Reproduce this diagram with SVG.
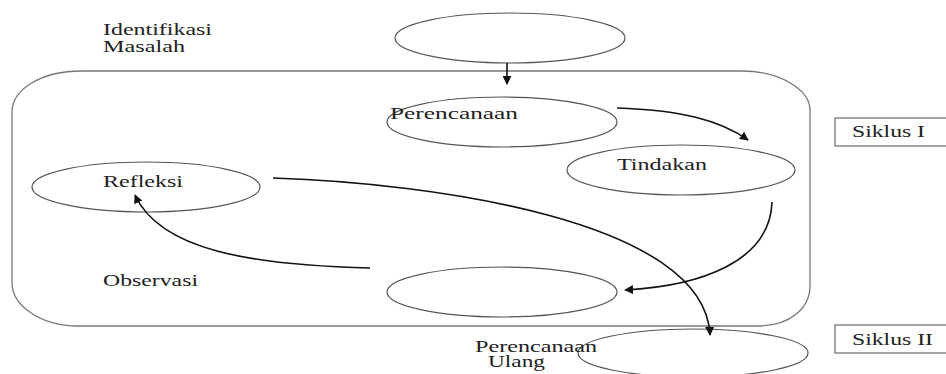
<svg xmlns="http://www.w3.org/2000/svg" width="946" height="374" viewBox="0 0 946 374">
<style>
.n{fill:none;stroke:#555;stroke-width:1.2}
.b{fill:none;stroke:#777;stroke-width:1.3}
.t{font-family:"Liberation Serif","Times New Roman",serif;font-size:17px;fill:#222}
.c{fill:none;stroke:#111;stroke-width:1.6}
</style>
<defs>
<marker id="ah" viewBox="0 0 10 10" refX="9" refY="5" markerWidth="9" markerHeight="9" markerUnits="userSpaceOnUse" orient="auto">
<path d="M0,0 L10,5 L0,10 Z" fill="#111"/>
</marker>
</defs>
<rect width="946" height="374" fill="#fff"/>
<g id="cycle-box"><path class="b" d="M82,71 H742 C780,71 810,90 810,110 V286 C810,308 790,326 758,326 H78 C40,326 12,305 12,283 V112 C12,90 40,71 82,71 Z"/></g>
<g id="identifikasi"><ellipse class="n" cx="510" cy="38" rx="115" ry="25"/><text class="t" x="103" y="35" textLength="109" lengthAdjust="spacingAndGlyphs">Identifikasi</text><text class="t" x="103" y="52" textLength="82" lengthAdjust="spacingAndGlyphs">Masalah</text></g>
<g id="perencanaan"><ellipse class="n" cx="502" cy="122" rx="115" ry="25"/><text class="t" x="390" y="119" textLength="128" lengthAdjust="spacingAndGlyphs">Perencanaan</text></g>
<g id="tindakan"><ellipse class="n" cx="681" cy="170" rx="114" ry="25"/><text class="t" x="617" y="170" textLength="90" lengthAdjust="spacingAndGlyphs">Tindakan</text></g>
<g id="refleksi"><ellipse class="n" cx="146" cy="187" rx="114" ry="25"/><text class="t" x="103" y="187" textLength="80" lengthAdjust="spacingAndGlyphs">Refleksi</text></g>
<g id="observasi"><ellipse class="n" cx="502" cy="292" rx="115" ry="25"/><text class="t" x="103" y="286" textLength="95" lengthAdjust="spacingAndGlyphs">Observasi</text></g>
<g id="perencanaan-ulang"><ellipse class="n" cx="693" cy="353" rx="115" ry="24"/><text class="t" x="475" y="352" textLength="122" lengthAdjust="spacingAndGlyphs">Perencanaan</text><text class="t" x="488" y="367" textLength="57" lengthAdjust="spacingAndGlyphs">Ulang</text></g>
<g id="siklus1"><rect class="b" x="835" y="118" width="115" height="28"/><text class="t" x="852" y="137" textLength="73" lengthAdjust="spacingAndGlyphs">Siklus I</text></g>
<g id="siklus2"><rect class="b" x="835" y="325" width="115" height="28"/><text class="t" x="852" y="345" textLength="81" lengthAdjust="spacingAndGlyphs">Siklus II</text></g>
<g id="connectors">
<path class="c" d="M507,63 V84" marker-end="url(#ah)"/>
<path class="c" d="M617,108 C680,110 720,120 748,140" marker-end="url(#ah)"/>
<path class="c" d="M772,202 C770,262 700,286 625,290" marker-end="url(#ah)"/>
<path class="c" d="M370,268 C250,265 160,250 135,195" marker-end="url(#ah)"/>
<path class="c" d="M273,178 C430,183 705,220 710,335" marker-end="url(#ah)"/>
</g>
</svg>
